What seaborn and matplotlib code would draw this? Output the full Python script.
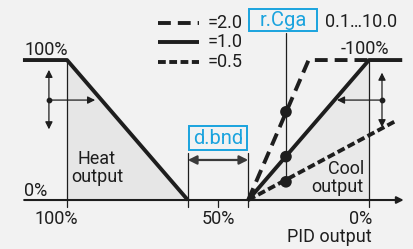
import numpy as np
import matplotlib.pyplot as plt
import seaborn as sns

# x = PID output (%), y = controller output (%)
heat_pid = [114.6, 100, 60]
heat_out = [100, 100, 0]
cool_pid_10 = [40, 0, -11]
cool_out_10 = [0, 100, 100]
cool_pid_20 = [40, 20, 0]
cool_out_20 = [0, 100, 100]
cool_pid_05 = [40, -9.3]
cool_out_05 = [0, 57]
gain_labels = ['=2.0', '=1.0', '=0.5']
dot_pid = [27.5, 27.5, 27.5]
dot_out = [63, 31, 13]
tick_pid = [100, 50, 0]
tick_labels = ['100%', '50%', '0%']
dead_band = [60, 40]

bg = '#f2f2f2'
ink = '#1e1e1e'
blue = '#1aa3de'
fs = 13
lw = 2.8
dash_long = (0, (3.3, 1.8))
dash_short = (0, (2.0, 0.9))

sns.set_theme(style='white')
plt.rcParams['font.family'] = ['Roboto', 'DejaVu Sans']

fig = plt.figure(figsize=(4.14, 2.49), dpi=100, facecolor=bg)
ax = fig.add_axes([0, 0, 1, 1])
ax.set_facecolor(bg)
ax.set_xlim(122.2, -14.9)
ax.set_ylim(-35, 142.9)
ax.axis('off')

# shaded areas under the heat / cool (gain 1.0) curves
ax.fill([100, 100, 60], [100, 0, 0], color='#e6e6e6', lw=0, zorder=0)
ax.fill([40, 0, 0], [0, 100, 0], color='#e9e9e9', lw=0, zorder=0)

# thin reference lines
thin = dict(color=ink, lw=0.9, zorder=1)
ax.plot([100, 100], [100, -5], **thin)
ax.plot([0, 0], [100, -5], **thin)
ax.plot([60, 60], [33.6, -5], **thin)
ax.plot([40, 40], [33.6, -5], **thin)
ax.plot([50, 50], [0, -5], **thin)
ax.plot([27.5, 27.5], [119, 13], **thin)

# horizontal axis with arrow
ax.annotate('', xy=(-11.5, 0), xytext=(114.2, 0),
            arrowprops=dict(arrowstyle='-|>', color=ink, lw=1.5,
                            mutation_scale=10, shrinkA=0, shrinkB=0), zorder=2)

# curves
sns.lineplot(x=heat_pid, y=heat_out, sort=False, estimator=None, color=ink,
             lw=lw, ax=ax, solid_capstyle='butt', zorder=3)
sns.lineplot(x=cool_pid_10, y=cool_out_10, sort=False, estimator=None, color=ink,
             lw=lw, ax=ax, solid_capstyle='butt', zorder=3)
sns.lineplot(x=cool_pid_20, y=cool_out_20, sort=False, estimator=None, color=ink,
             lw=lw, ax=ax, linestyle=dash_long, zorder=3)
sns.lineplot(x=cool_pid_05, y=cool_out_05, sort=False, estimator=None, color=ink,
             lw=lw, ax=ax, linestyle=dash_short, zorder=3)
sns.scatterplot(x=dot_pid, y=dot_out, color=ink, s=70, ax=ax, zorder=4,
                edgecolor='none')

# gain key (drawn in axes fractions)
key_styles = [dash_long, '-', dash_short]
key_top, key_step = 0.9076, 0.0773
for i, (ls, lab) in enumerate(zip(key_styles, gain_labels)):
    yk = key_top - i * key_step
    ax.plot([0.3816, 0.4807], [yk, yk], transform=ax.transAxes, color=ink,
            lw=lw, linestyle=ls, solid_capstyle='butt')
    ax.text(0.5024, yk, lab, transform=ax.transAxes, fontsize=fs, color=ink,
            ha='left', va='center')

# small arrows on left and right
arr = dict(arrowstyle='-|>', color=ink, lw=0.9, mutation_scale=11,
           shrinkA=0, shrinkB=0)
dbl = dict(arrowstyle='<|-|>', color=ink, lw=0.9, mutation_scale=11,
           shrinkA=0, shrinkB=0)
ax.annotate('', xy=(106, 93), xytext=(106, 50.5), arrowprops=dbl)
ax.annotate('', xy=(90.7, 71.4), xytext=(106, 71.4), arrowprops=arr)
ax.scatter([106], [71.4], s=10, color=ink, zorder=4)
ax.annotate('', xy=(-4.3, 91), xytext=(-4.3, 52), arrowprops=dbl)
ax.annotate('', xy=(10.6, 71.4), xytext=(-4.3, 71.4), arrowprops=arr)
ax.scatter([-4.3], [71.4], s=10, color=ink, zorder=4)

# dead band arrow
ax.annotate('', xy=(dead_band[1], 28.6), xytext=(dead_band[0], 28.6),
            arrowprops=dict(arrowstyle='<|-|>', color='#3a3a3a', lw=1.6,
                            mutation_scale=13, shrinkA=0, shrinkB=0))

# texts
ax.text(114.2, 103.6, '100%', fontsize=fs, color=ink, ha='left', va='baseline')
ax.text(114.2, 3.0, '0%', fontsize=fs, color=ink, ha='left', va='baseline')
ax.text(90.1, 22.9, 'Heat\noutput', fontsize=fs, color=ink, ha='center',
        va='center', linespacing=0.95)
ax.text(1.7, 15.7, 'Cool\noutput', fontsize=fs, color=ink, ha='right',
        va='center', linespacing=0.95, multialignment='right')
ax.text(1.3, 108, '-100%', fontsize=fs, color=ink, ha='center', va='center')
for p, lab in zip(tick_pid, tick_labels):
    ha = 'right' if p == 0 else 'center'
    xp = -1 if p == 0 else (103.6 if p == 100 else p)
    ax.text(xp, -13.6, lab, fontsize=fs, color=ink, ha=ha, va='center')
ax.text(-1, -26.4, 'PID output', fontsize=fs, color=ink, ha='right', va='center')
ax.text(14.6, 127.1, '0.1…10.0', fontsize=fs, color=ink, ha='left', va='center')

ax.text(28.5, 128.6, 'r.Cga', fontsize=14.5, color=blue, ha='center',
        va='center', zorder=5,
        bbox=dict(boxstyle='square,pad=0.5', mutation_aspect=0.15,
                  fc=bg, ec=blue, lw=1.4))
ax.text(50, 44.3, 'd.bnd', fontsize=14.5, color=blue, ha='center',
        va='center', zorder=5,
        bbox=dict(boxstyle='square,pad=0.18', mutation_aspect=0.7,
                  fc=bg, ec=blue, lw=1.4))

fig.savefig('out.png', dpi=100, facecolor=bg)
